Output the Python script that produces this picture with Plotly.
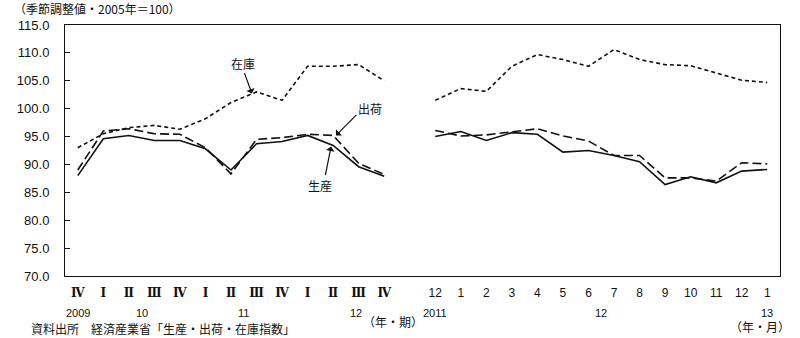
import plotly.graph_objects as go

# ---- data ----
quarter_labels = ["Ⅳ", "Ⅰ", "Ⅱ", "Ⅲ", "Ⅳ", "Ⅰ", "Ⅱ", "Ⅲ", "Ⅳ", "Ⅰ", "Ⅱ", "Ⅲ", "Ⅳ"]
month_labels = ["12", "1", "2", "3", "4", "5", "6", "7", "8", "9", "10", "11", "12", "1"]

prod_q = [88.0, 94.6, 95.2, 94.3, 94.3, 92.8, 89.0, 93.7, 94.1, 95.2, 93.4, 89.6, 87.9]
ship_q = [89.0, 96.0, 96.4, 95.5, 95.4, 93.0, 88.3, 94.5, 94.8, 95.4, 95.2, 90.2, 88.2]
inv_q = [93.0, 95.5, 96.6, 97.0, 96.3, 98.2, 101.1, 103.0, 101.5, 107.6, 107.6, 107.9, 105.0]

prod_m = [95.0, 95.9, 94.3, 95.7, 95.4, 92.2, 92.5, 91.6, 90.5, 86.4, 87.8, 86.7, 88.8, 89.1]
ship_m = [96.1, 95.1, 95.3, 95.8, 96.4, 95.1, 94.2, 91.6, 91.6, 87.6, 87.6, 87.0, 90.3, 90.1]
inv_m = [101.5, 103.6, 103.1, 107.6, 109.7, 108.8, 107.6, 110.6, 108.8, 107.9, 107.7, 106.4, 105.1, 104.7]

year_q = [("2009", 0), ("10", 2.5), ("11", 6.5), ("12", 10.9)]
year_m = [("2011", 14), ("12", 20.5), ("13", 27)]

# ---- build category axis: quarters, one blank slot, months ----
nq, nm = len(quarter_labels), len(month_labels)
xq = list(range(nq))
xm = list(range(nq + 1, nq + 1 + nm))
x_all = xq + [nq] + xm

def join(a, b):
    return a + [None] + b

SERIF_Q = "<span style=\"font-family:'DejaVu Serif'\"><b>%s</b></span>"
ticktext = [SERIF_Q % q for q in quarter_labels] + month_labels
tickvals = xq + xm

L, R, T, B = 65, 20, 25, 62
W, H = 800, 338
PH = H - T - B
PW = W - L - R

def py2paper(py):
    return (H - B - py) / PH

def px2paper(px):
    return (px - L) / PW

black = "#111111"
fig = go.Figure()
fig.add_trace(go.Scatter(x=x_all, y=join(inv_q, inv_m), mode="lines", name="在庫",
                         line=dict(color=black, width=1.6, dash="4px,3px"), connectgaps=False))
fig.add_trace(go.Scatter(x=x_all, y=join(ship_q, ship_m), mode="lines", name="出荷",
                         line=dict(color=black, width=1.6, dash="9px,4px"), connectgaps=False))
fig.add_trace(go.Scatter(x=x_all, y=join(prod_q, prod_m), mode="lines", name="生産",
                         line=dict(color=black, width=1.6), connectgaps=False))

JP = "Noto Sans CJK JP"
ann = []

def label(x, y, t, size=12, fam=JP, **kw):
    d = dict(x=x, y=y, text=t, showarrow=False, xanchor="center", yanchor="middle",
             font=dict(size=size, family=fam, color=black))
    d.update(kw)
    ann.append(d)

def arrow(x, y, ax, ay):
    ann.append(dict(x=x, y=y, ax=ax, ay=ay, text="", showarrow=True, arrowhead=1,
                    arrowsize=1.2, arrowwidth=1.2, arrowcolor=black))

# series labels with arrows
label(6.47, 108.1, "在庫")
arrow(6.82, 102.7, -8, -22)
label(11.44, 100.0, "出荷")
arrow(10.11, 95.2, 22, -22)
label(9.48, 86.2, "生産")
arrow(9.92, 93.2, -6, 30)

# year row
for t, xv in year_q + year_m:
    label(xv, py2paper(313), t, size=11, fam="Liberation Sans", xref="x", yref="paper")
label(12.34, py2paper(321), "（年・期）", xref="x", yref="paper")
label(26.7, py2paper(326), "（年・月）", xref="x", yref="paper")
# title and source
label(px2paper(12), py2paper(8), "（季節調整値・2005年＝100）", xref="paper", yref="paper", xanchor="left")
label(px2paper(29), py2paper(328), "資料出所　経済産業省「生産・出荷・在庫指数」", xref="paper", yref="paper",
      xanchor="left")

fig.update_layout(
    width=W, height=H,
    margin=dict(l=L, r=R, t=T, b=B),
    paper_bgcolor="white", plot_bgcolor="white",
    showlegend=False,
    annotations=ann,
    xaxis=dict(range=[-0.5, len(x_all) - 0.5], tickmode="array", tickvals=tickvals, ticktext=ticktext,
               showline=True, linecolor=black, linewidth=1, mirror=True, showgrid=False, zeroline=False,
               ticks="", ticklabelstandoff=6, tickfont=dict(size=12, family="Liberation Sans", color=black)),
    yaxis=dict(range=[70, 115], dtick=5, tick0=70, tickformat=".1f", showline=True, linecolor=black,
               linewidth=1, mirror=True, showgrid=False, zeroline=False, ticks="inside", ticklen=5,
               tickcolor=black, ticklabelstandoff=12, tickfont=dict(size=13, family="Liberation Sans", color=black)),
)

fig.write_html("out.html")
